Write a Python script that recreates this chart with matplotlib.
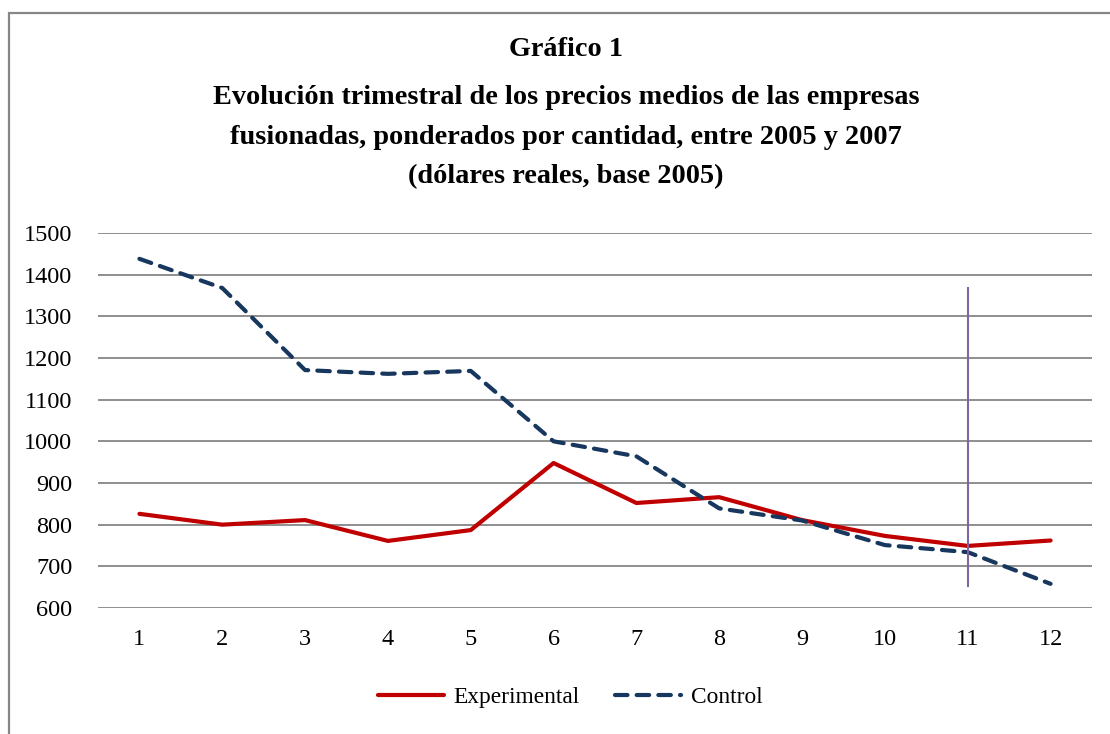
#!/usr/bin/env python3
"""Gráfico 1: precios medios trimestrales, empresas fusionadas 2005-2007."""
import matplotlib
matplotlib.use('Agg')
import matplotlib.pyplot as plt
import matplotlib.patches as patches

# Data
quarters = [1, 2, 3, 4, 5, 6, 7, 8, 9, 10, 11, 12]
experimental = [826, 800, 811, 761, 787, 948, 852, 866, 811, 773, 749, 762]
control = [1438, 1368, 1171, 1162, 1169, 1000, 964, 839, 810, 751, 734, 658]
y_ticks = [600, 700, 800, 900, 1000, 1100, 1200, 1300, 1400, 1500]
marker_quarter = 11
marker_range = (650, 1370)

title_lines = ['Gráfico 1',
               'Evolución trimestral de los precios medios de las empresas',
               'fusionadas, ponderados por cantidad, entre 2005 y 2007',
               '(dólares reales, base 2005)']

plt.rcParams['font.family'] = ['Liberation Serif', 'DejaVu Serif']

W, H = 1110, 734
fig = plt.figure(figsize=(W / 100, H / 100), dpi=100)
fig.patch.set_facecolor('white')

# outer chart-area border (cut off at right and bottom)
fig.add_artist(patches.Rectangle((8.5 / W, -0.1), 2, 1 - 13 / H + 0.1,
                                 transform=fig.transFigure, fill=False,
                                 edgecolor='#868686', linewidth=1.6,
                                 clip_on=False))

# title
title_y = [50, 97, 137, 177]
for line, yy in zip(title_lines, title_y):
    fig.text(566 / W, 1 - yy / H, line, ha='center', va='center',
             fontsize=20.3, fontweight='bold', color='black')

ax = fig.add_axes([98 / W, 1 - 608 / H, (1092 - 98) / W, (608 - 233) / H])
ax.set_xlim(0.5, 12.5)
ax.set_ylim(600, 1500)
for s in ax.spines.values():
    s.set_visible(False)
ax.set_yticks(y_ticks)
ax.set_xticks(quarters)
ax.set_xticklabels([str(q) for q in quarters])
ax.tick_params(length=0, labelsize=17.5, colors='black')
ax.tick_params(axis='y', pad=18.5)
ax.tick_params(axis='x', pad=15)
ax.yaxis.grid(True, color='#868686', linewidth=1.3)
ax.set_axisbelow(True)

ax.plot(quarters, experimental, color='#C00000', linewidth=3,
        solid_capstyle='round', solid_joinstyle='round', label='Experimental')
ax.plot(quarters, control, color='#17375E', linewidth=3,
        dashes=(3, 2.2), dash_capstyle='round', dash_joinstyle='round',
        label='Control')
ax.vlines(marker_quarter, marker_range[0], marker_range[1],
          color='#8064A2', linewidth=1.5)

fig.legend(loc='center', bbox_to_anchor=(570 / W, 1 - 697 / H), ncol=2,
           frameon=False, fontsize=16.8, handlelength=2.85, handletextpad=0.4,
           columnspacing=1.5)

fig.savefig('out.png', dpi=100, facecolor='white')
